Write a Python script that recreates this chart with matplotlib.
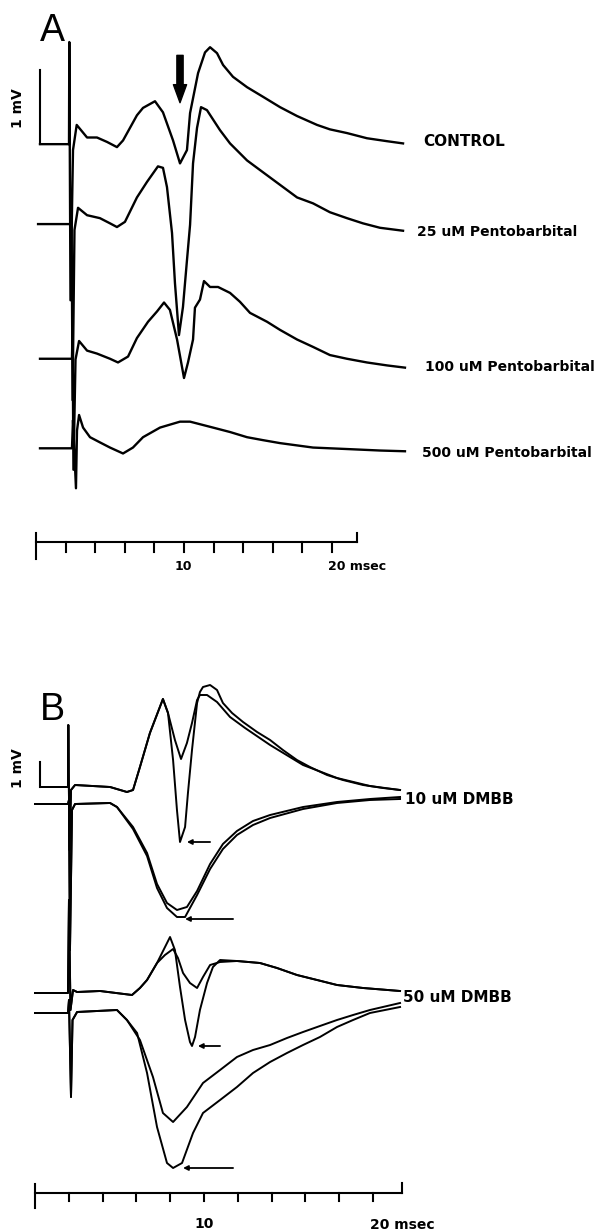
import numpy as np
import matplotlib.pyplot as plt

# ---------------- data: times in ms, voltages in mV relative to each trace's baseline
# Panel A - pentobarbital series
ctrl_t = [0.27, 2.23, 2.25, 2.33, 2.50, 2.75, 3.45, 4.12, 4.80, 5.47, 5.88, 6.82, 7.23, 8.04, 8.58, 9.26, 9.73,
          10.20, 10.41, 10.95, 11.42, 11.76, 12.23, 12.64, 13.31, 14.26, 15.34, 16.49, 17.64, 18.99, 19.86, 21.01,
          22.36, 23.72, 24.80]
ctrl_v = [0, 0, 1.38, -2.11, -0.08, 0.26, 0.09, 0.09, 0.03, -0.04, 0.05, 0.39, 0.49, 0.58, 0.43, 0.05, -0.26,
          -0.08, 0.42, 0.96, 1.24, 1.31, 1.23, 1.07, 0.91, 0.77, 0.64, 0.50, 0.38, 0.26, 0.20, 0.15,
          0.08, 0.04, 0.01]

pb25_t = [0.14, 2.36, 2.40, 2.47, 2.60, 2.84, 3.45, 4.32, 5.00, 5.47, 6.01, 6.82, 7.50, 8.24, 8.58, 8.85, 9.19,
          9.39, 9.66, 9.93, 10.20, 10.41, 10.61, 10.88, 11.15, 11.55, 12.43, 13.11, 14.26, 15.34, 16.49, 17.64,
          18.72, 19.86, 21.01, 22.09, 23.24, 24.80]
pb25_v = [0, 0, 0.26, -2.38, -0.08, 0.22, 0.12, 0.08, 0.01, -0.04, 0.03, 0.36, 0.57, 0.78, 0.76, 0.50, -0.12,
          -0.80, -1.50, -1.12, -0.49, -0.01, 0.82, 1.30, 1.58, 1.54, 1.27, 1.09, 0.86, 0.70, 0.53, 0.36,
          0.28, 0.16, 0.08, 0.01, -0.05, -0.09]

pb100_t = [0.27, 2.43, 2.47, 2.53, 2.67, 2.91, 3.45, 4.12, 5.00, 5.54, 6.22, 6.82, 7.57, 8.18, 8.65, 9.05, 9.53,
           10.00, 10.27, 10.61, 10.74, 11.08, 11.35, 11.76, 12.30, 13.11, 13.78, 14.46, 15.61, 16.49, 17.64,
           18.72, 19.86, 21.01, 22.36, 23.72, 24.93]
pb100_v = [0, 0, 0.39, -1.50, -0.01, 0.24, 0.11, 0.07, 0, -0.05, 0.03, 0.28, 0.50, 0.64, 0.76, 0.66, 0.26,
           -0.26, -0.05, 0.26, 0.69, 0.80, 1.05, 0.97, 0.97, 0.89, 0.77, 0.62, 0.50, 0.39, 0.26,
           0.16, 0.05, 0, -0.05, -0.09, -0.12]

pb500_t = [0.27, 2.43, 2.50, 2.70, 2.77, 2.91, 3.18, 3.65, 4.32, 5.00, 5.88, 6.55, 7.23, 8.38, 9.73, 10.41,
           11.96, 13.11, 14.26, 15.34, 16.49, 18.72, 21.01, 23.24, 24.93]
pb500_v = [0, 0, 0.38, -0.54, 0.24, 0.45, 0.28, 0.15, 0.08, 0.01, -0.07, 0.01, 0.15, 0.28, 0.36, 0.36,
           0.28, 0.22, 0.15, 0.11, 0.07, 0.01, -0.01, -0.03, -0.04]

a_labels = ['CONTROL', '25 uM Pentobarbital', '100 uM Pentobarbital', '500 uM Pentobarbital']

# Panel B - DMBB, each condition is a pair of superimposed sweeps (upper: pop. spike, lower: field)
d10_ps1_t = [0.30, 1.95, 1.97, 2.04, 2.13, 2.37, 4.44, 5.44, 5.80, 6.21, 6.80, 7.57, 7.87, 8.17, 8.40, 8.58,
             8.88, 9.05, 9.29, 9.59, 9.76, 9.94, 10.36, 10.77, 11.12, 11.66, 12.31, 13.14, 13.91, 14.67, 15.50,
             16.27, 17.28, 18.22, 19.41, 20.59, 21.60]
d10_ps1_v = [0, 0, 2.48, -2.52, -0.12, 0.08, 0, -0.20, -0.12, 0.80, 2.16, 3.52, 2.96, 1.08, -0.92, -2.20,
             -1.60, -0.24, 1.48, 3.36, 3.80, 4.00, 4.08, 3.88, 3.36, 2.96, 2.60, 2.20, 1.88, 1.48, 1.08,
             0.80, 0.48, 0.28, 0.08, -0.04, -0.12]
d10_ps2_t = [0.30, 1.95, 1.97, 2.04, 2.13, 2.37, 4.44, 5.44, 5.80, 6.21, 6.80, 7.57, 7.87, 8.28, 8.64, 8.99,
             9.29, 9.59, 9.76, 10.18, 10.77, 11.54, 12.43, 13.91, 15.86, 17.87, 19.82, 21.60]
d10_ps2_v = [0, 0, 2.48, -2.52, -0.12, 0.08, 0, -0.20, -0.12, 0.80, 2.16, 3.52, 2.96, 1.88, 1.12, 1.76,
             2.56, 3.48, 3.68, 3.68, 3.40, 2.80, 2.36, 1.68, 0.88, 0.36, 0.04, -0.12]
d10_fe1_t = [0, 1.95, 2.01, 2.07, 2.19, 2.37, 4.44, 4.85, 5.80, 6.63, 7.22, 7.81, 8.40, 8.99, 9.59, 10.36,
             11.12, 11.95, 12.90, 13.91, 15.86, 17.87, 19.82, 21.60]
d10_fe1_v = [0, 0, 0.16, -5.84, -0.24, 0, 0.04, -0.12, -0.92, -1.96, -3.20, -3.96, -4.24, -4.12, -3.48, -2.40,
             -1.60, -1.08, -0.68, -0.44, -0.12, 0.08, 0.20, 0.28]
d10_fe2_t = [0, 1.95, 2.01, 2.07, 2.19, 2.37, 4.44, 4.85, 5.80, 6.63, 7.22, 7.81, 8.40, 8.88, 9.59, 10.36,
             11.12, 11.95, 12.90, 13.91, 15.86, 17.87, 19.82, 21.60]
d10_fe2_v = [0, 0, 0.16, -5.84, -0.24, 0, 0.04, -0.12, -1.00, -2.08, -3.36, -4.16, -4.52, -4.52, -3.64, -2.60,
             -1.80, -1.24, -0.84, -0.56, -0.20, 0.04, 0.16, 0.20]

d50_ps1_t = [0, 1.95, 2.01, 2.10, 2.25, 2.49, 3.85, 5.74, 6.21, 6.63, 7.22, 7.99, 8.28, 8.58, 8.88, 9.17,
             9.29, 9.47, 9.76, 10.18, 10.53, 10.95, 11.95, 13.31, 14.32, 15.50, 16.69, 17.87, 19.41, 21.60]
d50_ps1_v = [0, 0, 3.72, -0.68, 0.12, 0.04, 0.08, -0.08, 0.20, 0.52, 1.20, 2.24, 1.72, 0.24, -1.08, -1.96,
             -2.12, -1.76, -0.68, 0.40, 1.04, 1.32, 1.28, 1.20, 1.00, 0.72, 0.52, 0.32, 0.20, 0.08]
d50_ps2_t = [0, 1.95, 2.01, 2.10, 2.25, 2.49, 3.85, 5.74, 6.21, 6.63, 7.22, 7.69, 8.17, 8.46, 8.76, 9.17,
             9.59, 9.94, 10.36, 10.95, 11.95, 13.31, 14.32, 15.50, 16.69, 17.87, 19.41, 21.60]
d50_ps2_v = [0, 0, 3.72, -0.68, 0.12, 0.04, 0.08, -0.08, 0.20, 0.52, 1.20, 1.52, 1.76, 1.40, 0.80, 0.40,
             0.20, 0.64, 1.12, 1.24, 1.28, 1.20, 1.00, 0.72, 0.52, 0.32, 0.20, 0.08]
d50_fe1_t = [0, 1.95, 2.01, 2.13, 2.22, 2.49, 4.85, 5.44, 6.21, 6.98, 7.57, 8.17, 8.99, 9.94, 10.95, 11.95,
             12.90, 13.91, 14.91, 15.86, 16.86, 17.87, 18.82, 19.82, 21.60]
d50_fe1_v = [0, 0, 0.52, -3.36, -0.28, 0.04, 0.12, -0.28, -1.08, -2.56, -4.00, -4.36, -3.76, -2.80, -2.28, -1.76,
             -1.48, -1.28, -1.00, -0.76, -0.52, -0.28, -0.08, 0.12, 0.40]
d50_fe2_t = [0, 1.95, 2.01, 2.13, 2.22, 2.49, 4.85, 5.44, 6.04, 6.63, 7.22, 7.81, 8.17, 8.70, 9.35, 9.94,
             10.95, 11.95, 12.90, 13.91, 14.91, 15.86, 16.86, 17.87, 18.82, 19.82, 21.60]
d50_fe2_v = [0, 0, 0.52, -3.36, -0.28, 0.04, 0.12, -0.28, -0.80, -2.40, -4.56, -6.00, -6.20, -6.00, -4.80, -4.00,
             -3.48, -2.96, -2.40, -1.96, -1.60, -1.28, -0.96, -0.56, -0.28, 0, 0.24]

b_labels = ['10 uM DMBB', '50 uM DMBB']
time_ticks = list(range(0, 21, 2))   # ms
scale_end = 21.7                     # ms, end of the time bar

# ---------------- figure
W, H = 595, 1231
fig = plt.figure(figsize=(W / 100, H / 100), dpi=100)
K = 'black'
bold = dict(fontweight='bold', color=K, family='DejaVu Sans')


def fxy(x, y):
    # pixel position -> figure fraction (for the annotations)
    return x / W, 1 - y / H


# panel A: 14.8 px per ms, 74 px per mV
axA = fig.add_axes([0, 631 / H, 1, 600 / H])
axA.set_xlim(-36 / 14.8, 559 / 14.8)
axA.set_ylim(0, 600 / 74)
axA.axis('off')

a_traces = [(ctrl_t, ctrl_v), (pb25_t, pb25_v), (pb100_t, pb100_v), (pb500_t, pb500_v)]
a_base = [6.16, 5.08, 3.26, 2.05]
for (t, v), b in zip(a_traces, a_base):
    axA.plot(t, np.array(v) + b, color=K, lw=1.7, solid_joinstyle='round')

# 1 mV bar
axA.plot([0.27, 0.27], [a_base[0], a_base[0] + 1], color=K, lw=1.5)
# time bar
yb = 0.79
axA.plot([0, scale_end], [yb, yb], color=K, lw=1.5)
for tk in time_ticks[1:]:
    axA.plot([tk, tk], [yb, yb - 0.135], color=K, lw=1.5)
axA.plot([0, 0], [yb + 0.12, yb - 0.24], color=K, lw=1.5)
axA.plot([scale_end, scale_end], [yb, yb + 0.12], color=K, lw=1.5)
# arrow over the population spike
axA.annotate('', xy=(9.73, 6.72), xytext=(9.73, 7.36),
             arrowprops=dict(arrowstyle='simple,head_width=0.95,head_length=1.3,tail_width=0.45',
                             fc=K, ec=K, mutation_scale=10, shrinkA=0, shrinkB=0))

fig.text(*fxy(40, 41), 'A', fontsize=27, family='Liberation Sans', color=K, va='baseline', ha='left')
fig.text(*fxy(18, 108), '1 mV', rotation=90, fontsize=10, ha='center', va='center', **bold)
a_sizes = [11, 10, 10, 10]
for lab, (x, y), fs in zip(a_labels, [(423, 142), (417, 232), (425, 367), (422, 453)], a_sizes):
    fig.text(*fxy(x, y), lab, fontsize=fs, ha='left', va='center', **bold)
fig.text(*fxy(183, 567), '10', fontsize=9, ha='center', va='center', **bold)
fig.text(*fxy(328, 567), '20 msec', fontsize=9, ha='left', va='center', **bold)

# panel B: 16.9 px per ms, 25 px per mV
axB = fig.add_axes([0, 0, 1, 631 / H])
axB.set_xlim(-35 / 16.9, 560 / 16.9)
axB.set_ylim(0, 631 / 25)
axB.axis('off')

b_traces = [(d10_ps1_t, d10_ps1_v, 17.76), (d10_ps2_t, d10_ps2_v, 17.76),
            (d10_fe1_t, d10_fe1_v, 17.08), (d10_fe2_t, d10_fe2_v, 17.08),
            (d50_ps1_t, d50_ps1_v, 9.52), (d50_ps2_t, d50_ps2_v, 9.52),
            (d50_fe1_t, d50_fe1_v, 8.72), (d50_fe2_t, d50_fe2_v, 8.72)]
for t, v, b in b_traces:
    axB.plot(t, np.array(v) + b, color=K, lw=1.4, solid_joinstyle='round')

# peak markers
for head, tail, y in [(8.99, 10.36, 15.56), (8.88, 11.72, 12.48), (9.64, 10.95, 7.40), (8.76, 11.72, 2.52)]:
    axB.annotate('', xy=(head, y), xytext=(tail, y),
                 arrowprops=dict(arrowstyle='-|>', lw=1.3, color=K, mutation_scale=7,
                                 shrinkA=0, shrinkB=0))

axB.plot([0.30, 0.30], [17.76, 18.76], color=K, lw=1.5)
yb = 1.54
axB.plot([0, scale_end], [yb, yb], color=K, lw=1.5)
for tk in time_ticks[1:]:
    axB.plot([tk, tk], [yb, yb - 0.32], color=K, lw=1.5)
axB.plot([0, 0], [yb + 0.34, yb - 0.62], color=K, lw=1.5)
axB.plot([scale_end, scale_end], [yb, yb + 0.38], color=K, lw=1.5)

fig.text(*fxy(40, 720), 'B', fontsize=27, family='Liberation Sans', color=K, va='baseline', ha='left')
fig.text(*fxy(18.5, 768), '1 mV', rotation=90, fontsize=10, ha='center', va='center', **bold)
for lab, (x, y) in zip(b_labels, [(405, 799), (403, 998)]):
    fig.text(*fxy(x, y), lab, fontsize=11, ha='left', va='center', **bold)
fig.text(*fxy(204, 1224), '10', fontsize=10, ha='center', va='center', **bold)
fig.text(*fxy(370, 1225), '20 msec', fontsize=10, ha='left', va='center', **bold)

fig.savefig('out.png', dpi=100, facecolor='white')
